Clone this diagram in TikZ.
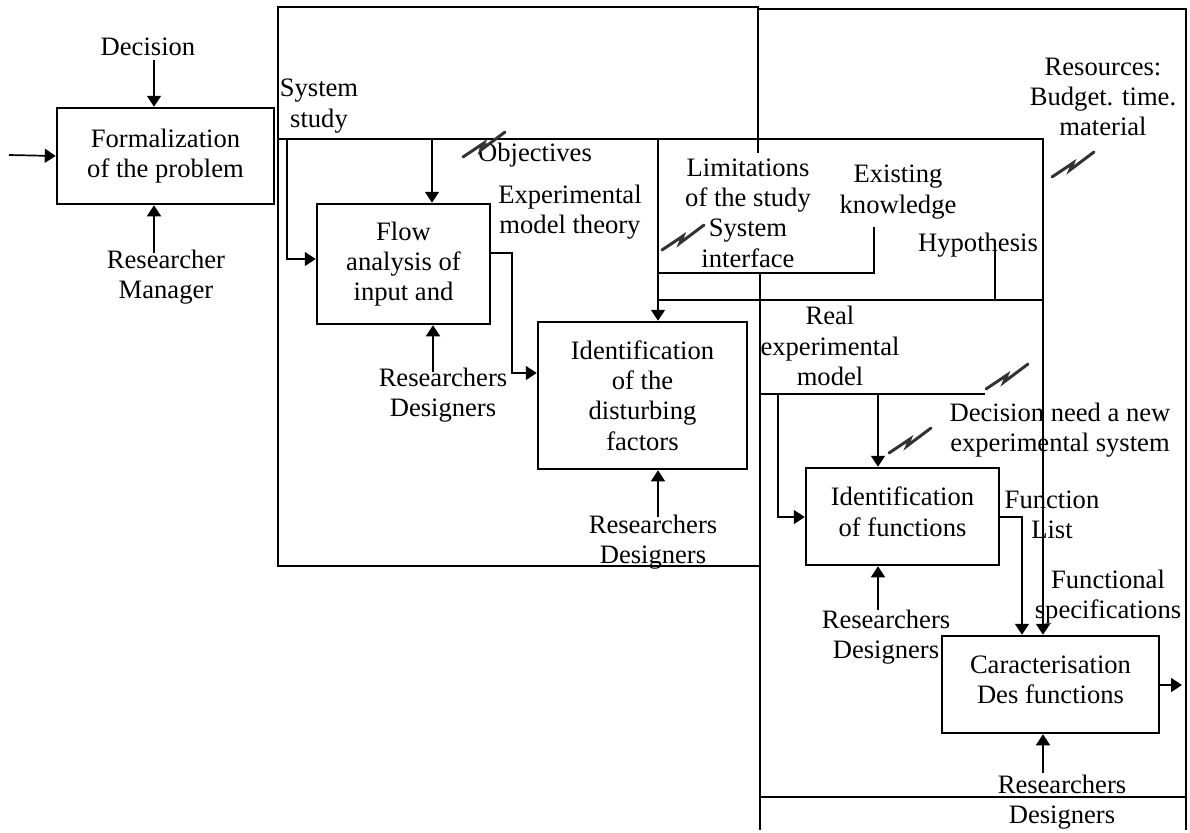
\documentclass[tikz,border=0pt]{standalone}
\usepackage{fontspec}
\setmainfont{Liberation Serif}
\usetikzlibrary{arrows.meta}
\begin{document}
\begin{tikzpicture}[x=0.5pt,y=-0.5pt,
  every node/.style={font=\fontsize{13.3pt}{15.2pt}\selectfont},
  procbox/.style={draw,line width=1.25pt,inner sep=0pt,align=center},
  lbl/.style={inner sep=0pt,align=center},
  conn/.style={line width=0.85pt},
  arr/.style={conn,-{Triangle[length=5.5pt,width=7pt]}},
  frame/.style={line width=0.85pt},
  zzline/.style={line width=1.5pt,black!80,line cap=round,line join=miter},
  zzag/.pic={\draw[zzline] (0,0) -- (21,-14) -- (18,-7) -- (42,-25);}]
\useasboundingbox (0,0) rectangle (1190,832);

% process boxes
\node[procbox,minimum width=108.5pt,minimum height=48pt] (Form) at (165.5,156) {Formalization\\of the problem};
\node[procbox,minimum width=86.5pt,minimum height=60pt] (Flow) at (403.5,264) {Flow\\analysis of\\input and};
\node[procbox,minimum width=104.5pt,minimum height=73.5pt] (Dist) at (642.5,395.5) {Identification\\of the\\disturbing\\factors};
\node[procbox,minimum width=96.5pt,minimum height=48.5pt] (IdF) at (902.5,516.5) {Identification\\of functions\rule[-5pt]{0pt}{0pt}};
\node[procbox,minimum width=108.5pt,minimum height=48.5pt] (Car) at (1050.5,684.5) {Caracterisation\\Des functions\rule[-5pt]{0pt}{0pt}};

% frames
\draw[frame] (758,153) -- (758,7) -- (278,7) -- (278,566) -- (760,566);
\draw[frame] (758,9) -- (1186,9) -- (1186,830);
\draw[frame] (760,273) -- (760,830);
\draw[frame] (760,797) -- (1186,797);

% labels
\node[lbl] (dec) at (148,47) {Decision};
\node[lbl] (mgr) at (166,277) {Researcher\\Manager};
\node[lbl] (sys) at (319,106) {System\\study};
\node[lbl] (obj) at (535,155) {Objectives};
\node[lbl] (emt) at (570,212) {Experimental\\model theory};
\node[lbl] (lim) at (748,213) {Limitations\\of the study\\System\\interface};
\node[lbl] (ek) at (898,192) {Existing\\knowledge};
\node[lbl] (hyp) at (978,245) {Hypothesis};
\node[lbl] (res) at (1103,97) {Resources:\\Budget. time.\\material};
\node[lbl] (rd1) at (443,395) {Researchers\\Designers};
\node[lbl] (rd2) at (653,542) {Researchers\\Designers};
\node[lbl] (rem) at (830,346) {Real\\experimental\\model};
\node[lbl] (dnn) at (1060,430) {Decision need a new\\experimental system};
\node[lbl] (fl) at (1052,515) {Function\\List};
\node[lbl] (rd3) at (886,637) {Researchers\\Designers};
\node[lbl] (fs) at (1108,597) {Functional\\specifications};
\node[lbl] (rd4) at (1062,802) {Researchers\\Designers};

% connectors
\draw[arr] (9,155) -- (Form.west);
\draw[arr] (154,60) -- (Form.north -| 154,0);
\draw[arr] (154,253) -- (Form.south -| 154,0);
\draw[arr] (278,139) -- (1043,139) -- (Car.north -| 1043,0);
\draw[arr] (287,139) |- (Flow.west |- 0,259);
\draw[arr] (432,139) -- (Flow.north -| 432,0);
\draw[arr] (658,139) -- (Dist.north -| 658,0);
\draw[conn] (874,227) |- (658,273);
\draw[conn] (658,300) -- (1043,300);
\draw[conn] (995,248) -- (995,300);
\draw[arr] (Flow.east |- 0,253) -- (512,253) |- (Dist.west |- 0,373);
\draw[arr] (433,372) -- (Flow.south -| 433,0);
\draw[arr] (658,517) -- (Dist.south -| 658,0);
\draw[conn] (760,394) -- (985,394);
\draw[arr] (778,394) |- (IdF.west |- 0,517);
\draw[arr] (878,394) -- (IdF.north -| 878,0);
\draw[arr] (878,610) -- (IdF.south -| 878,0);
\draw[arr] (IdF.east |- 0,517) -- (1022,517) -- (Car.north -| 1022,0);
\draw[arr] (Car.east |- 0,685) -- (1182,685);
\draw[arr] (1043,773) -- (Car.south -| 1043,0);

% zigzag link marks
\pic at (463,157) {zzag};
\pic at (662,250) {zzag};
\pic at (1052,177) {zzag};
\pic at (986,389) {zzag};
\pic at (889,453) {zzag};
\end{tikzpicture}
\end{document}
